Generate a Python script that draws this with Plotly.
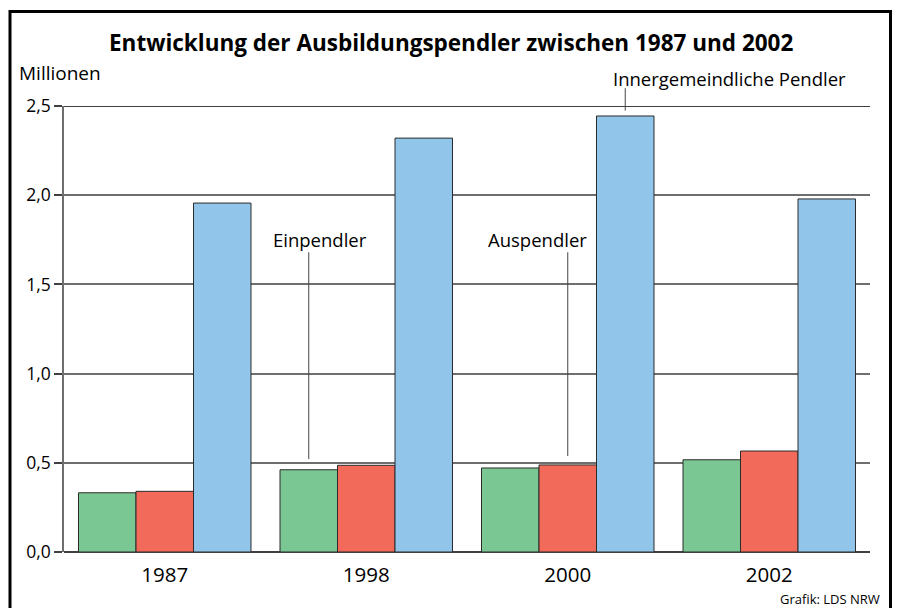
import plotly.graph_objects as go

# Ausbildungspendler in Millionen
years = ["1987", "1998", "2000", "2002"]
einpendler = [0.332, 0.461, 0.471, 0.517]
auspendler = [0.340, 0.486, 0.488, 0.566]
innergemeindlich = [1.956, 2.320, 2.444, 1.979]

y_ticks = [0.0, 0.5, 1.0, 1.5, 2.0, 2.5]
y_tick_labels = ["0,0", "0,5", "1,0", "1,5", "2,0", "2,5"]

GREEN = "#7bc794"
RED = "#f26b5a"
BLUE = "#92c5ea"
FONT = "Open Sans"

W, H = 898, 608
ML, MR, MT, MB = 64, 28, 106, 56
PW, PH = W - ML - MR, H - MT - MB
Y_MAX = y_ticks[-1]

xs = list(range(len(years)))
bargap = 0.144
bw = (1 - bargap) / 3

fig = go.Figure()
for name, vals, col in [("Einpendler", einpendler, GREEN),
                        ("Auspendler", auspendler, RED),
                        ("Innergemeindliche Pendler", innergemeindlich, BLUE)]:
    fig.add_trace(go.Bar(
        x=xs, y=vals, name=name,
        marker=dict(color=col, line=dict(color="#2b2b2b", width=1)),
        showlegend=False, hoverinfo="skip",
    ))


def px_x(p):
    return (p - ML) / PW


def px_y(p):
    return (H - MB - p) / PH


shapes = []
# outer frame
shapes.append(dict(type="rect", xref="paper", yref="paper",
                   x0=px_x(10), x1=px_x(890.5), y0=px_y(614), y1=px_y(11.5),
                   line=dict(color="black", width=3), layer="above"))
# top line at 2,5
shapes.append(dict(type="line", xref="paper", yref="y", x0=0, x1=1,
                   y0=Y_MAX, y1=Y_MAX,
                   line=dict(color="black", width=1.5), layer="below"))

# leader lines to labelled bars (vertical positions in paper units = value / Y_MAX)
leaders = [
    ("Einpendler", 1 - bw, einpendler[1] + 0.06, 1.68, 320, 239),
    ("Auspendler", 2, auspendler[2] + 0.05, 1.68, 537, 239),
    ("Innergemeindliche Pendler", 2 + bw, innergemeindlich[2] + 0.03, 2.60, 729, 78),
]
annotations = []
for text, xv, ylo, yhi, tx, ty in leaders:
    shapes.append(dict(type="line", xref="x", yref="paper", x0=xv, x1=xv,
                       y0=ylo / Y_MAX, y1=yhi / Y_MAX,
                       line=dict(color="#444", width=1)))
    annotations.append(dict(text=text, xref="paper", yref="paper",
                            x=px_x(tx), y=px_y(ty), showarrow=False,
                            xanchor="center", yanchor="middle",
                            font=dict(family=FONT, size=18.5, color="black")))

annotations.append(dict(text="<b>Entwicklung der Ausbildungspendler zwischen 1987 und 2002</b>",
                        xref="paper", yref="paper", x=px_x(451), y=px_y(43),
                        showarrow=False, xanchor="center", yanchor="middle",
                        font=dict(family=FONT, size=22.5, color="black")))
annotations.append(dict(text="Millionen", xref="paper", yref="paper",
                        x=px_x(17), y=px_y(73), showarrow=False,
                        xanchor="left", yanchor="middle",
                        font=dict(family=FONT, size=19, color="black")))
annotations.append(dict(text="Grafik: LDS NRW", xref="paper", yref="paper",
                        x=px_x(882), y=px_y(599), showarrow=False,
                        xanchor="right", yanchor="middle",
                        font=dict(family=FONT, size=13, color="black")))

fig.update_layout(
    width=W, height=H,
    margin=dict(l=ML, r=MR, t=MT, b=MB),
    paper_bgcolor="white", plot_bgcolor="white",
    barmode="group", bargap=bargap, bargroupgap=0,
    shapes=shapes, annotations=annotations,
    xaxis=dict(
        tickmode="array", tickvals=xs, ticktext=years,
        range=[-0.5, len(years) - 0.5],
        showgrid=False, zeroline=False, showline=False, ticks="",
        ticklabelstandoff=8,
        tickfont=dict(family=FONT, size=20.5, color="black"),
        fixedrange=True,
    ),
    yaxis=dict(
        tickmode="array", tickvals=y_ticks, ticktext=y_tick_labels,
        range=[0, Y_MAX],
        showgrid=True, gridcolor="#6e6e6e", gridwidth=1.5,
        zeroline=True, zerolinecolor="#404040", zerolinewidth=1.5,
        showline=True, linecolor="#6e6e6e", linewidth=1.5,
        ticks="outside", ticklen=8, tickcolor="#404040", tickwidth=1.5,
        tickfont=dict(family=FONT, size=17.5, color="black"),
        fixedrange=True,
    ),
)

fig.write_html("out.html")
